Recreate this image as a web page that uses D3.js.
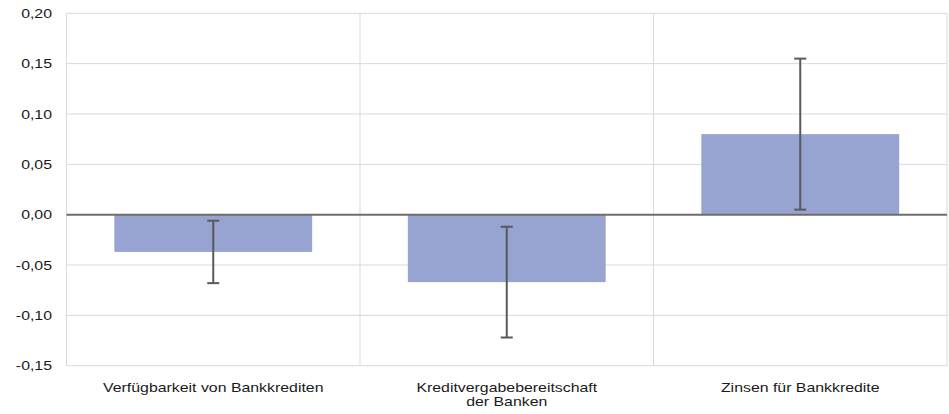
<!DOCTYPE html>
<html><head><meta charset="utf-8">
<script src="https://cdn.jsdelivr.net/npm/d3@7"></script>
<style>body{margin:0;background:#fff}svg{display:block}text{font-family:"Liberation Sans",Arial,sans-serif}</style>
</head><body><svg id="c" width="949" height="414"></svg>
<script>
const categories = [["Verfügbarkeit von Bankkrediten"], ["Kreditvergabebereitschaft", "der Banken"], ["Zinsen für Bankkredite"]];
const values = [-0.037, -0.067, 0.080];
const errors = [0.031, 0.055, 0.075];
const yTicks = [-0.15, -0.10, -0.05, 0.00, 0.05, 0.10, 0.15, 0.20];

const svg = d3.select("#c");
const m = {l: 66.5, r: 947, t: 13.3, b: 365.7};
const sx = 1.24, fs = 12.8;
const x = d3.scaleBand().domain(d3.range(categories.length)).range([m.l, m.r]).paddingInner(0).paddingOuter(0);
const y = d3.scaleLinear().domain([-0.15, 0.20]).range([m.b, m.t]);
const fmt = v => d3.format(".2f")(v).replace(".", ",").replace("−", "-");

// gridlines
svg.append("g").selectAll("line").data(yTicks).join("line")
  .attr("x1", m.l).attr("x2", m.r).attr("y1", d => y(d)).attr("y2", d => y(d))
  .attr("stroke", "#d9d9d9").attr("stroke-width", 1);
// vertical category separators
const seps = d3.range(categories.length + 1).map(i => i < categories.length ? x(i) : m.r);
svg.append("g").selectAll("line").data(seps).join("line")
  .attr("x1", d => d).attr("x2", d => d).attr("y1", m.t).attr("y2", m.b)
  .attr("stroke", "#d9d9d9").attr("stroke-width", 1);

// y axis labels
const yAxis = d3.axisLeft(y).tickValues(yTicks).tickFormat(fmt).tickSize(0).tickPadding(14.5);
const ga = svg.append("g").attr("transform", `translate(${m.l},0)`).call(yAxis);
ga.select(".domain").remove();
ga.selectAll("text").attr("font-size", fs).attr("fill", "#1a1a1a")
  .attr("font-family", '"Liberation Sans",Arial,sans-serif')
  .attr("x", -14.5 / sx).attr("transform", `scale(${sx},1)`);

// bars
const bw = x.bandwidth() * 0.674;
svg.append("g").selectAll("rect").data(values).join("rect")
  .attr("x", (d, i) => x(i) + (x.bandwidth() - bw) / 2)
  .attr("width", bw)
  .attr("y", d => y(Math.max(0, d)))
  .attr("height", d => Math.abs(y(d) - y(0)))
  .attr("fill", "#97a3d0");

// zero line
svg.append("line").attr("x1", m.l).attr("x2", m.r).attr("y1", y(0)).attr("y2", y(0))
  .attr("stroke", "#6e6e6e").attr("stroke-width", 2);

// error bars
const eg = svg.append("g").attr("stroke", "#595959").attr("stroke-width", 2);
values.forEach((v, i) => {
  const cx = x(i) + x.bandwidth() / 2;
  const lo = y(v - errors[i]), hi = y(v + errors[i]);
  eg.append("line").attr("x1", cx).attr("x2", cx).attr("y1", hi).attr("y2", lo);
  eg.append("line").attr("x1", cx - 6).attr("x2", cx + 6).attr("y1", hi).attr("y2", hi);
  eg.append("line").attr("x1", cx - 6).attr("x2", cx + 6).attr("y1", lo).attr("y2", lo);
});

// category labels
const lg = svg.append("g");
categories.forEach((lines, i) => {
  const cx = x(i) + x.bandwidth() / 2;
  const t = lg.append("text").attr("transform", `translate(${cx},392) scale(${sx},1)`)
    .attr("x", 0).attr("y", 0)
    .attr("text-anchor", "middle").attr("font-size", fs).attr("fill", "#1a1a1a");
  lines.forEach((l, j) => t.append("tspan").attr("x", 0).attr("dy", j ? 14 : 0).text(l));
});
</script></body></html>
